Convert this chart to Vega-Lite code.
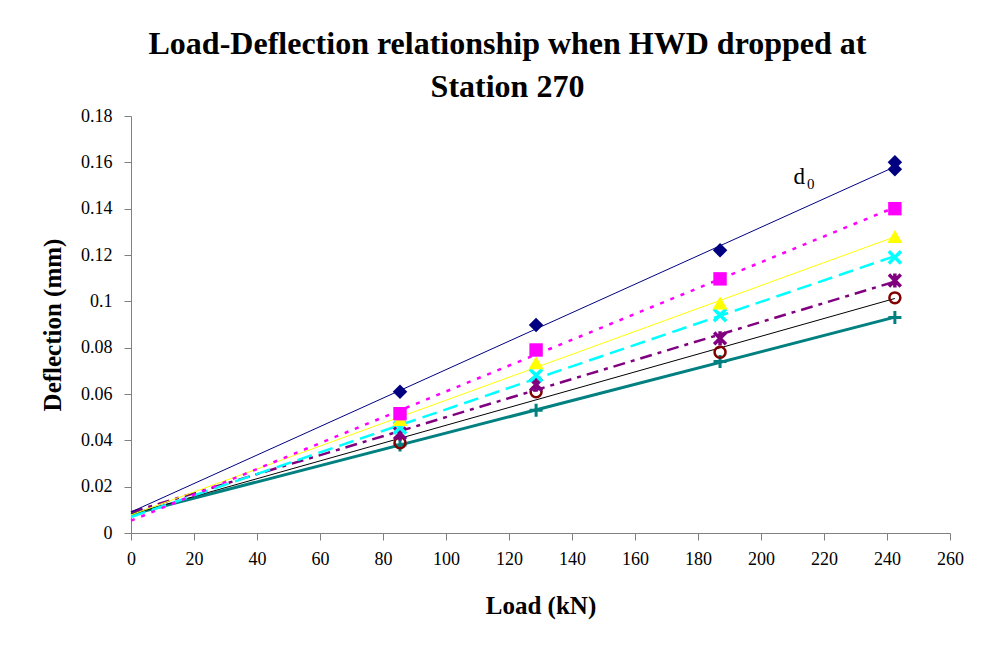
{
  "$schema": "https://vega.github.io/schema/vega-lite/v6.json",
  "width": 819,
  "height": 417,
  "autosize": "none",
  "padding": {"left": 131, "top": 116, "right": 45, "bottom": 116},
  "background": "white",
  "config": {
    "view": {"stroke": null},
    "font": "Liberation Serif",
    "axis": {"labelFont": "Liberation Serif", "titleFont": "Liberation Serif", "labelColor": "black", "titleColor": "black", "domainColor": "#808080", "tickColor": "#808080", "grid": false}
  },
  "title": {
    "text": ["Load-Deflection relationship when HWD dropped at", "Station 270"],
    "font": "Liberation Serif",
    "fontSize": 32,
    "fontWeight": "bold",
    "lineHeight": 43,
    "anchor": "middle",
    "dx": -33,
    "offset": 3,
    "color": "black"
  },
  "datasets": {
    "pts": [
      {"s": "d0", "load": 85.4, "defl": 0.061},
      {"s": "d0", "load": 128.6, "defl": 0.0898},
      {"s": "d0", "load": 187, "defl": 0.122},
      {"s": "d0", "load": 242.5, "defl": 0.160},
      {"s": "d0", "load": 242.5, "defl": 0.157},
      {"s": "d1", "load": 85.4, "defl": 0.0515},
      {"s": "d1", "load": 128.6, "defl": 0.079},
      {"s": "d1", "load": 187, "defl": 0.1097},
      {"s": "d1", "load": 242.5, "defl": 0.140},
      {"s": "d2", "load": 85.4, "defl": 0.049},
      {"s": "d2", "load": 128.6, "defl": 0.0735},
      {"s": "d2", "load": 187, "defl": 0.0993},
      {"s": "d2", "load": 242.5, "defl": 0.128},
      {"s": "d3", "load": 85.4, "defl": 0.0455},
      {"s": "d3", "load": 128.6, "defl": 0.068},
      {"s": "d3", "load": 187, "defl": 0.094},
      {"s": "d3", "load": 242.5, "defl": 0.119},
      {"s": "d4", "load": 85.4, "defl": 0.043},
      {"s": "d4", "load": 128.6, "defl": 0.064},
      {"s": "d4", "load": 187, "defl": 0.084},
      {"s": "d4", "load": 242.5, "defl": 0.109},
      {"s": "d5", "load": 85.4, "defl": 0.039},
      {"s": "d5", "load": 128.6, "defl": 0.061},
      {"s": "d5", "load": 187, "defl": 0.078},
      {"s": "d5", "load": 242.5, "defl": 0.1015},
      {"s": "d6", "load": 85.4, "defl": 0.038},
      {"s": "d6", "load": 128.6, "defl": 0.053},
      {"s": "d6", "load": 187, "defl": 0.074},
      {"s": "d6", "load": 242.5, "defl": 0.093}
    ],
    "labels": [
      {"t": "d", "load": 210.3, "defl": 0.1505, "size": 23},
      {"t": "0", "load": 214.6, "defl": 0.1483, "size": 15}
    ]
  },
  "encoding": {
    "x": {"field": "load", "type": "quantitative", "scale": {"domain": [0, 260], "nice": false},
      "axis": {"values": [0,20,40,60,80,100,120,140,160,180,200,220,240,260], "labelFontSize": 18, "title": "Load (kN)", "titleFontSize": 25, "titleFontWeight": "bold", "tickSize": 7, "labelPadding": 10, "titlePadding": 25, "labelFlush": false}},
    "y": {"field": "defl", "type": "quantitative", "scale": {"domain": [0, 0.18], "nice": false},
      "axis": {"values": [0,0.02,0.04,0.06,0.08,0.1,0.12,0.14,0.16,0.18], "format": "~g", "labelFontSize": 18, "title": "Deflection (mm)", "titleFontSize": 25, "titleFontWeight": "bold", "tickSize": 7, "labelPadding": 12, "titlePadding": 15, "labelFlush": false}}
  },
  "layer": [
    {"data": {"name": "pts"}, "transform": [{"filter": "datum.s == 'd6'"}, {"regression": "defl", "on": "load", "extent": [0, 242.5]}],
      "mark": {"type": "line", "color": "#008080", "strokeWidth": 3}},
    {"data": {"name": "pts"}, "transform": [{"filter": "datum.s == 'd5'"}, {"regression": "defl", "on": "load", "extent": [0, 242.5]}],
      "mark": {"type": "line", "color": "#000000", "strokeWidth": 1}},
    {"data": {"name": "pts"}, "transform": [{"filter": "datum.s == 'd4'"}, {"regression": "defl", "on": "load", "extent": [0, 242.5]}],
      "mark": {"type": "line", "color": "#800080", "strokeWidth": 2.5, "strokeDash": [12, 6, 4, 6]}},
    {"data": {"name": "pts"}, "transform": [{"filter": "datum.s == 'd3'"}, {"regression": "defl", "on": "load", "extent": [0, 242.5]}],
      "mark": {"type": "line", "color": "#00FFFF", "strokeWidth": 2.5, "strokeDash": [15, 7]}},
    {"data": {"name": "pts"}, "transform": [{"filter": "datum.s == 'd2'"}, {"regression": "defl", "on": "load", "extent": [0, 242.5]}],
      "mark": {"type": "line", "color": "#FFFF00", "strokeWidth": 1}},
    {"data": {"name": "pts"}, "transform": [{"filter": "datum.s == 'd1'"}, {"regression": "defl", "on": "load", "extent": [0, 242.5]}],
      "mark": {"type": "line", "color": "#FF00FF", "strokeWidth": 2.5, "strokeDash": [4, 7]}},
    {"data": {"name": "pts"}, "transform": [{"filter": "datum.s == 'd0'"}, {"regression": "defl", "on": "load", "extent": [0, 242.5]}],
      "mark": {"type": "line", "color": "#000080", "strokeWidth": 1}},
    {"data": {"name": "pts"}, "transform": [{"filter": "datum.s == 'd6'"}],
      "mark": {"type": "point", "shape": "M-1,0L1,0M0,-1L0,1", "filled": false, "stroke": "#008080", "strokeWidth": 3, "size": 170, "opacity": 1}},
    {"data": {"name": "pts"}, "transform": [{"filter": "datum.s == 'd5'"}],
      "mark": {"type": "point", "shape": "circle", "filled": false, "stroke": "#800000", "strokeWidth": 2.5, "size": 120, "opacity": 1}},
    {"data": {"name": "pts"}, "transform": [{"filter": "datum.s == 'd4'"}],
      "mark": {"type": "point", "shape": "M-1,-1L1,1M-1,1L1,-1M0,-1.2L0,1.2", "filled": false, "stroke": "#800080", "strokeWidth": 3.5, "size": 140, "opacity": 1}},
    {"data": {"name": "pts"}, "transform": [{"filter": "datum.s == 'd3'"}],
      "mark": {"type": "point", "shape": "M-1,-1L1,1M-1,1L1,-1", "filled": false, "stroke": "#00FFFF", "strokeWidth": 3.5, "size": 150, "opacity": 1}},
    {"data": {"name": "pts"}, "transform": [{"filter": "datum.s == 'd2'"}],
      "mark": {"type": "point", "shape": "triangle-up", "filled": true, "color": "#FFFF00", "size": 230, "opacity": 1}},
    {"data": {"name": "pts"}, "transform": [{"filter": "datum.s == 'd1'"}],
      "mark": {"type": "point", "shape": "square", "filled": true, "color": "#FF00FF", "size": 180, "opacity": 1}},
    {"data": {"name": "pts"}, "transform": [{"filter": "datum.s == 'd0'"}],
      "mark": {"type": "point", "shape": "diamond", "filled": true, "color": "#000080", "size": 210, "opacity": 1}},
    {
      "data": {"name": "labels"},
      "mark": {"type": "text", "font": "Liberation Serif", "color": "black", "align": "left", "baseline": "alphabetic"},
      "encoding": {
        "text": {"field": "t"},
        "size": {"field": "size", "type": "quantitative", "scale": null, "legend": null}
      }
    }
  ]
}
